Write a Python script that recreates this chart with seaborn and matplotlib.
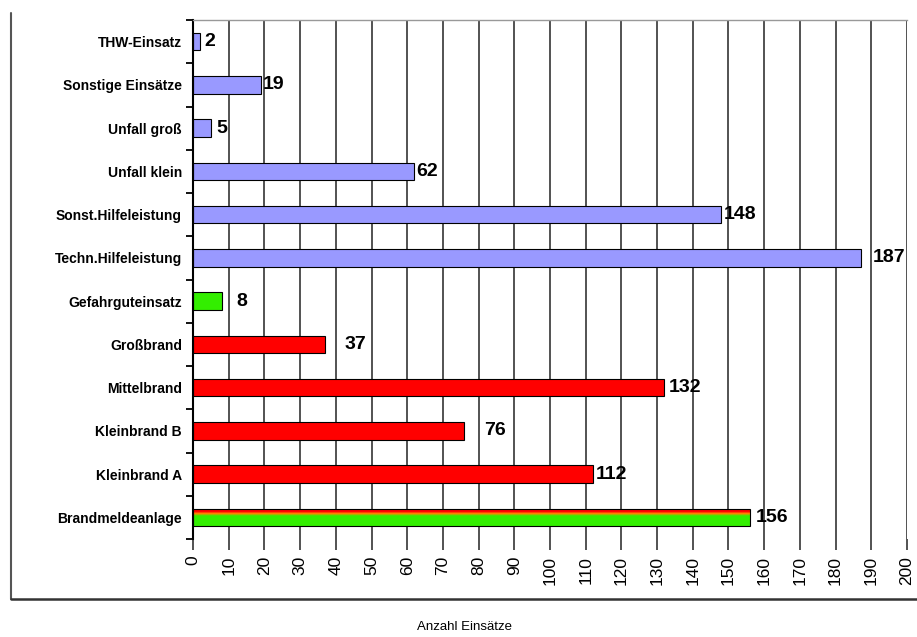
import numpy as np
import pandas as pd
import matplotlib
matplotlib.use("Agg")
import matplotlib.pyplot as plt
import seaborn as sns
from matplotlib.lines import Line2D
from matplotlib.ticker import FixedLocator, MultipleLocator

# ---------------- data ----------------
categories = ["THW-Einsatz", "Sonstige Einsätze", "Unfall groß", "Unfall klein",
              "Sonst.Hilfeleistung", "Techn.Hilfeleistung", "Gefahrguteinsatz",
              "Großbrand", "Mittelbrand", "Kleinbrand B", "Kleinbrand A",
              "Brandmeldeanlage"]
values = [2, 19, 5, 62, 148, 187, 8, 37, 132, 76, 112, 156]
x_ticks = list(range(0, 201, 10))
x_title = "Anzahl Einsätze"

# ---------------- styles ----------------
BLUE, GREEN, RED, ORANGE = "#9999FF", "#33EE00", "#FF0000", "#FF8800"
bar_colors = [BLUE] * 6 + [GREEN] + [RED] * 4 + [RED]
label_pads = [3, 1.5, 4, 1.5, 2, 9, 11, 14, 3, 14, 2, 4]   # points
GRID = "#444444"

sns.set_theme(style="white")
plt.rcParams["font.family"] = ["Liberation Sans", "DejaVu Sans"]

df = pd.DataFrame({"cat": categories, "val": values})

W, H = 917, 637
fig = plt.figure(figsize=(W / 100, H / 100), dpi=100)
ax = fig.add_axes([193 / W, 1 - 539 / H, (907 - 193) / W, (539 - 20) / H])

sns.barplot(data=df, y="cat", x="val", hue="cat", palette=bar_colors,
            order=categories, hue_order=categories, legend=False, saturation=1,
            orient="h", width=0.4, edgecolor="black", linewidth=0.8, ax=ax)

ax.set_xlim(0, 200)
ax.set_ylim(len(categories) - 0.5, -0.5)
ax.xaxis.set_major_locator(FixedLocator(x_ticks))
ax.set_xticks(x_ticks)
ax.set_xticklabels([str(t) for t in x_ticks], rotation=90, fontsize=12.5)
ax.tick_params(axis="x", direction="out", length=8, width=1.3, color=GRID,
               pad=4, bottom=True, labelcolor="black")
ax.grid(axis="x", color=GRID, linewidth=1.3)
ax.set_axisbelow(True)

ax.tick_params(axis="y", which="major", length=0, pad=8, labelsize=10, labelcolor="black")
for lbl in ax.get_yticklabels():
    lbl.set_fontweight("bold")
ax.yaxis.set_minor_locator(MultipleLocator(1, offset=0.5))
ax.tick_params(axis="y", which="minor", left=True, length=5, width=1.3,
               color="black", direction="out")

for side in ("right", "bottom"):
    ax.spines[side].set_visible(False)
ax.spines["top"].set_color("#999999")
ax.spines["top"].set_linewidth(1)
ax.spines["left"].set_color("black")
ax.spines["left"].set_linewidth(1.5)

ax.set_ylabel("")
ax.set_xlabel(x_title, fontsize=9.5, color="black")
ax.xaxis.label.set_verticalalignment("center")
ax.xaxis.set_label_coords((465 - 193) / (907 - 193), (539 - 627) / (539 - 20))

# value labels
for cont, pad in zip(ax.containers, label_pads):
    ax.bar_label(cont, padding=pad, fontsize=14, fontweight="bold", color="black")

# Brandmeldeanlage: red-to-green gradient fill
for cont in ax.containers:
    for p in cont.patches:
        cy = p.get_y() + p.get_height() / 2
        if abs(cy - categories.index("Brandmeldeanlage")) < 0.01:
            x0, y0, w, h = p.get_x(), p.get_y(), p.get_width(), p.get_height()
            grad = np.array([matplotlib.colors.to_rgb(c) for c in
                             [RED, RED, ORANGE, GREEN, GREEN, GREEN, GREEN, GREEN]])
            img = ax.imshow(grad[:, None, :], extent=(x0, x0 + w, y0 + h, y0),
                            aspect="auto", interpolation="bilinear", zorder=p.get_zorder() + 0.1)
            img.set_clip_path(p)
            p.set_facecolor("none")
            p.set_zorder(p.get_zorder() + 0.2)
ax.set_xlim(0, 200)
ax.set_ylim(len(categories) - 0.5, -0.5)

# chart-area border (left and bottom visible)
fig.add_artist(Line2D([11 / W, 11 / W], [1 - 599 / H, 1 - 13 / H], color="#555555", lw=1.5))
fig.add_artist(Line2D([11 / W, 1.0], [1 - 599 / H, 1 - 599 / H], color="#333333", lw=1.8))

fig.savefig("out.png", dpi=100)
